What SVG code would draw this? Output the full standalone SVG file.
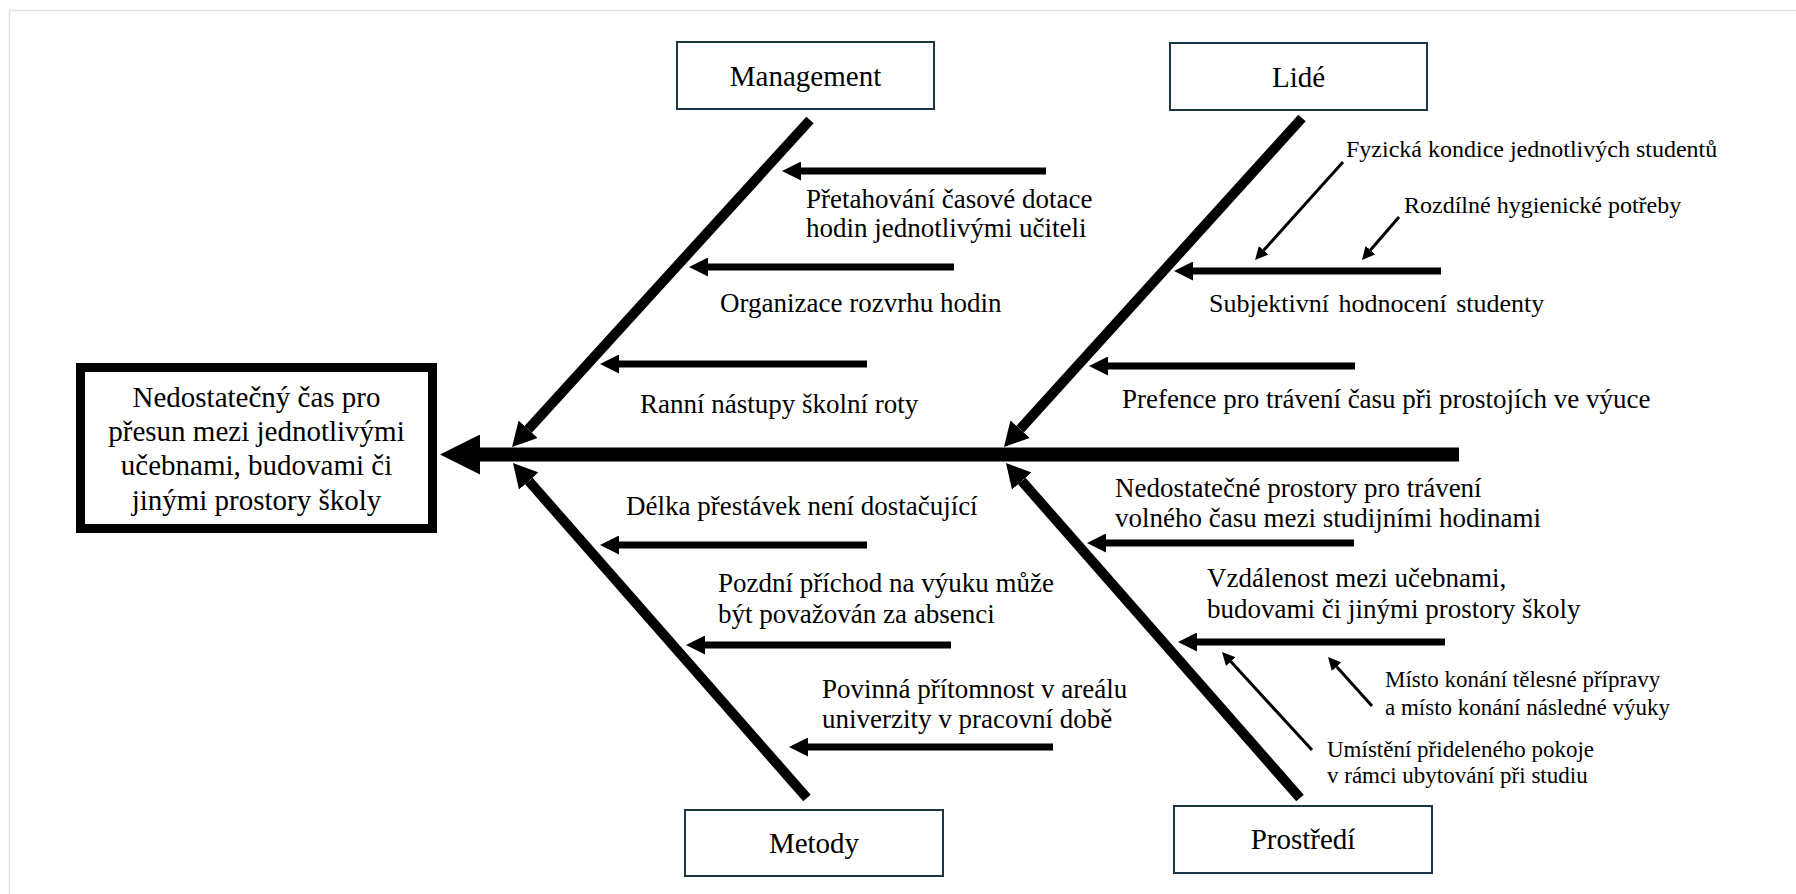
<svg xmlns="http://www.w3.org/2000/svg" width="1796" height="894" viewBox="0 0 1796 894">
  <style>
    .frame { fill: none; stroke: #e2e2e2; stroke-width: 1.5; }
    .cat { fill: #ffffff; stroke: #1c3545; stroke-width: 2; }
    .effect { fill: #ffffff; stroke: #000000; stroke-width: 9; }
    text { font-family: "Liberation Serif", "Times New Roman", serif; fill: #000000; }
    .catlabel { font-size: 29px; text-anchor: middle; }
    .efflabel { font-size: 29px; text-anchor: middle; }
    .cause { font-size: 27px; }
    .sub { font-size: 23px; }
    .subl { font-size: 24px; }
    .spine { stroke: #000; stroke-width: 14; fill: none; }
    .bone { stroke: #000; stroke-width: 10; fill: none; }
    .arrow { stroke: #000; stroke-width: 7; fill: none; }
    .thin { stroke: #000; stroke-width: 3; fill: none; }
  </style>
  <defs>
    <marker id="headSpine" markerUnits="userSpaceOnUse" markerWidth="40" markerHeight="40" refX="0" refY="20" orient="auto">
      <path d="M0,0 L40,20 L0,40 z" fill="#000"/>
    </marker>
    <marker id="headBone" markerUnits="userSpaceOnUse" markerWidth="24" markerHeight="26" refX="0" refY="13" orient="auto">
      <path d="M0,0 L24,13 L0,26 z" fill="#000"/>
    </marker>
    <marker id="headCause" markerUnits="userSpaceOnUse" markerWidth="19" markerHeight="19" refX="0" refY="9.5" orient="auto">
      <path d="M0,0 L19,9.5 L0,19 z" fill="#000"/>
    </marker>
    <marker id="headThin" markerUnits="userSpaceOnUse" markerWidth="13" markerHeight="13" refX="0" refY="6.5" orient="auto">
      <path d="M0,0 L13,6.5 L0,13 z" fill="#000"/>
    </marker>
  </defs>

  <rect class="frame" x="9.5" y="10.5" width="1800" height="900"/>

  <g id="connectors">
    <!-- spine -->
    <line class="spine" x1="1459" y1="454.5" x2="480" y2="454.5" marker-end="url(#headSpine)"/>
    <!-- category bones -->
    <line class="bone" x1="810" y1="120" x2="528.2" y2="429.3" marker-end="url(#headBone)"/>
    <line class="bone" x1="1302" y1="118" x2="1020.1" y2="429.2" marker-end="url(#headBone)"/>
    <line class="bone" x1="807" y1="798" x2="528.8" y2="481" marker-end="url(#headBone)"/>
    <line class="bone" x1="1300" y1="798" x2="1021.8" y2="481" marker-end="url(#headBone)"/>
    <!-- Management causes -->
    <line class="arrow" x1="1046" y1="171" x2="801" y2="171" marker-end="url(#headCause)"/>
    <line class="arrow" x1="954" y1="267" x2="708" y2="267" marker-end="url(#headCause)"/>
    <line class="arrow" x1="867" y1="364" x2="619" y2="364" marker-end="url(#headCause)"/>
    <!-- Metody causes -->
    <line class="arrow" x1="867" y1="545" x2="619" y2="545" marker-end="url(#headCause)"/>
    <line class="arrow" x1="951" y1="645" x2="705" y2="645" marker-end="url(#headCause)"/>
    <line class="arrow" x1="1053" y1="747" x2="808" y2="747" marker-end="url(#headCause)"/>
    <!-- Lidé causes -->
    <line class="arrow" x1="1441" y1="271" x2="1193" y2="271" marker-end="url(#headCause)"/>
    <line class="arrow" x1="1355" y1="366" x2="1108" y2="366" marker-end="url(#headCause)"/>
    <!-- Prostředí causes -->
    <line class="arrow" x1="1354" y1="543" x2="1106" y2="543" marker-end="url(#headCause)"/>
    <line class="arrow" x1="1445" y1="642" x2="1197" y2="642" marker-end="url(#headCause)"/>
    <!-- sub-causes -->
    <line class="thin" x1="1343" y1="162" x2="1263.7" y2="250.3" marker-end="url(#headThin)"/>
    <line class="thin" x1="1399" y1="217" x2="1370.5" y2="250.1" marker-end="url(#headThin)"/>
    <line class="thin" x1="1312" y1="750" x2="1230.8" y2="661.6" marker-end="url(#headThin)"/>
    <line class="thin" x1="1372" y1="706" x2="1336.7" y2="666.7" marker-end="url(#headThin)"/>
  </g>

  <g id="effect">
    <rect class="effect" x="80.5" y="367.5" width="352" height="161"/>
    <text class="efflabel" x="256.5" y="407">Nedostatečný čas pro</text>
    <text class="efflabel" x="256.5" y="441">přesun mezi jednotlivými</text>
    <text class="efflabel" x="256.5" y="475">učebnami, budovami či</text>
    <text class="efflabel" x="256.5" y="510">jinými prostory školy</text>
  </g>

  <g id="cat-management">
    <rect class="cat" x="677" y="42" width="257" height="67"/>
    <text class="catlabel" x="805.5" y="86">Management</text>
  </g>
  <g id="cat-lide">
    <rect class="cat" x="1170" y="43" width="257" height="67"/>
    <text class="catlabel" x="1298.5" y="87">Lidé</text>
  </g>
  <g id="cat-metody">
    <rect class="cat" x="685" y="810" width="258" height="66"/>
    <text class="catlabel" x="814" y="853">Metody</text>
  </g>
  <g id="cat-prostredi">
    <rect class="cat" x="1174" y="806" width="258" height="67"/>
    <text class="catlabel" x="1303" y="849">Prostředí</text>
  </g>

  <g id="causes-management">
    <text class="cause" x="806" y="208">Přetahování časové dotace</text>
    <text class="cause" x="806" y="237">hodin jednotlivými učiteli</text>
    <text class="cause" x="720" y="312">Organizace rozvrhu hodin</text>
    <text class="cause" x="640" y="413">Ranní nástupy školní roty</text>
  </g>
  <g id="causes-metody">
    <text class="cause" x="626" y="515">Délka přestávek není dostačující</text>
    <text class="cause" x="718" y="592">Pozdní příchod na výuku může</text>
    <text class="cause" x="718" y="623">být považován za absenci</text>
    <text class="cause" x="822" y="698">Povinná přítomnost v areálu</text>
    <text class="cause" x="822" y="728">univerzity v pracovní době</text>
  </g>
  <g id="causes-lide">
    <text class="subl" x="1346" y="157">Fyzická kondice jednotlivých studentů</text>
    <text class="subl" x="1404" y="213">Rozdílné hygienické potřeby</text>
    <text class="cause" x="1209" y="312" style="font-size:26px" word-spacing="3">Subjektivní hodnocení studenty</text>
    <text class="cause" x="1122" y="408">Prefence pro trávení času při prostojích ve výuce</text>
  </g>
  <g id="causes-prostredi">
    <text class="cause" x="1115" y="497">Nedostatečné prostory pro trávení</text>
    <text class="cause" x="1115" y="527">volného času mezi studijními hodinami</text>
    <text class="cause" x="1207" y="587">Vzdálenost mezi učebnami,</text>
    <text class="cause" x="1207" y="618">budovami či jinými prostory školy</text>
    <text class="sub" x="1385" y="687">Místo konání tělesné přípravy</text>
    <text class="sub" x="1385" y="715">a místo konání následné výuky</text>
    <text class="sub" x="1327" y="757">Umístění přideleného pokoje</text>
    <text class="sub" x="1327" y="783">v rámci ubytování při studiu</text>
  </g>
</svg>
